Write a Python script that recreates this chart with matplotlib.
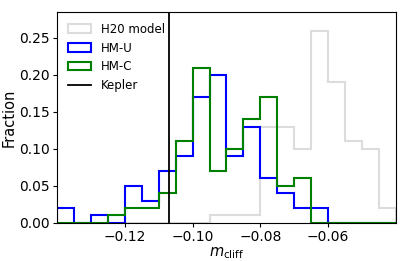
import numpy as np
import matplotlib.pyplot as plt

# bin edges for m_cliff, 20 bins of 0.005
edges = np.linspace(-0.14, -0.04, 21)

# fraction per bin
h20 = [0, 0, 0, 0, 0, 0, 0, 0, 0, 0.01, 0.01, 0.01, 0.13, 0.13, 0.10, 0.26, 0.19, 0.11, 0.10, 0.02]
hm_u = [0.02, 0, 0.01, 0, 0.05, 0.03, 0.07, 0.09, 0.17, 0.20, 0.09, 0.13, 0.06, 0.04, 0.02, 0.02, 0, 0, 0, 0]
hm_c = [0, 0, 0, 0.01, 0.02, 0.02, 0.04, 0.11, 0.21, 0.07, 0.10, 0.14, 0.17, 0.05, 0.06, 0, 0, 0, 0, 0]
kepler = -0.107

centers = 0.5 * (edges[:-1] + edges[1:])

fig, ax = plt.subplots(figsize=(4.11, 2.61), dpi=100)
fig.subplots_adjust(left=0.139, right=0.963, bottom=0.146, top=0.954)

ax.hist(centers, bins=edges, weights=h20, histtype='step', color='#dcdcdc', lw=1.5, label='H20 model')
ax.hist(centers, bins=edges, weights=hm_u, histtype='step', color='blue', lw=1.5, label='HM-U')
ax.hist(centers, bins=edges, weights=hm_c, histtype='step', color='green', lw=1.5, label='HM-C')
ax.axvline(kepler, color='black', lw=1.3, label='Kepler')

ax.set_xlim(-0.14, -0.04)
ax.set_ylim(0, 0.285)
ax.set_xticks([-0.12, -0.10, -0.08, -0.06])
ax.set_yticks([0, 0.05, 0.10, 0.15, 0.20, 0.25])
ax.tick_params(labelsize=10, length=3, pad=2)
ax.set_xlabel(r'$m_{\rm cliff}$', fontsize=10.5, labelpad=1)
ax.set_ylabel('Fraction', fontsize=10.5, labelpad=2)
ax.legend(loc='upper left', frameon=False, fontsize=8.5)

plt.savefig('out.png')
